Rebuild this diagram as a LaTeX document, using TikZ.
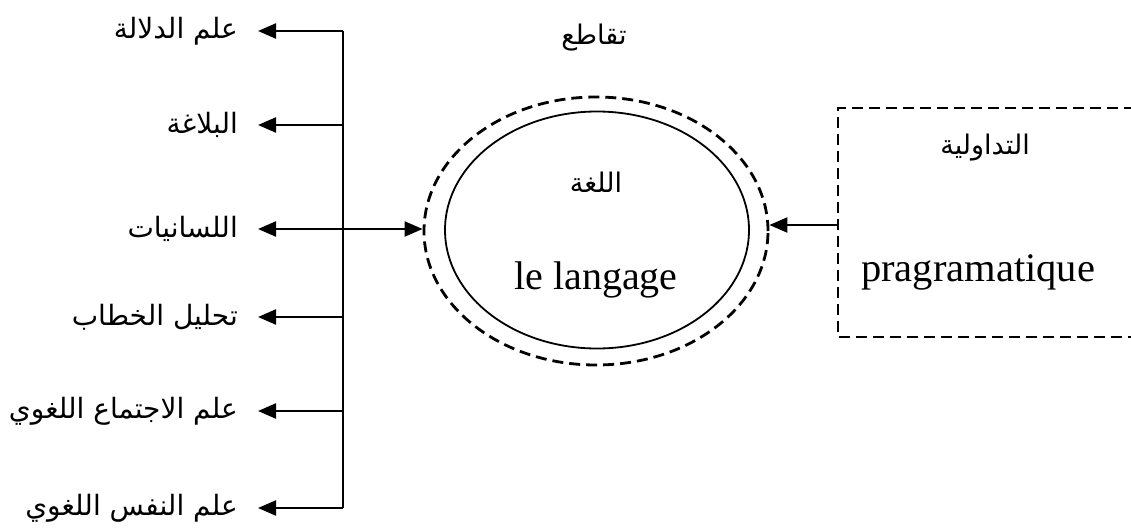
\documentclass[tikz,border=0pt]{standalone}
\usepackage{fontspec}
\setmainfont{Liberation Serif}
\newfontfamily\arabicfont[Script=Arabic]{DejaVu Sans}
\TeXXeTstate=1
\usetikzlibrary{shapes.geometric,arrows.meta}
\begin{document}
\begin{tikzpicture}[x=1pt,y=-1pt,
  lbl/.style={anchor=east,inner xsep=20pt,inner ysep=0pt,font=\arabicfont\fontsize{28}{32}\selectfont},
  artext/.style={font=\arabicfont\fontsize{27}{31}\selectfont},
  tip/.tip={Triangle[length=18pt,width=15pt]},
  arr/.style={line width=2.2pt,-tip},
  dbl/.style={line width=2.2pt,tip-tip},
  dsh/.style={line width=2.8pt,dash pattern=on 11pt off 6pt}]
\useasboundingbox (0,0) rectangle (1131,532);
% labels
\node[lbl] (l1) at (258,31) {\beginR علم الدلالة\endR};
\node[lbl] (l2) at (258,125) {\beginR البلاغة\endR};
\node[lbl] (l3) at (258,229) {\beginR اللسانيات\endR};
\node[lbl] (l4) at (258,317) {\beginR تحليل الخطاب\endR};
\node[lbl] (l5) at (258,411) {\beginR علم الاجتماع اللغوي\endR};
\node[lbl] (l6) at (258,508) {\beginR علم النفس اللغوي\endR};
% trunk
\coordinate (t1) at (343,31);
\coordinate (t2) at (343,125);
\coordinate (t4) at (343,317);
\coordinate (t5) at (343,411);
\coordinate (t6) at (343,508);
\draw[line width=2.2pt] (t1) -- (t6);
\draw[arr] (t1) -- (l1.east);
\draw[arr] (t2) -- (l2.east);
\draw[arr] (t4) -- (l4.east);
\draw[arr] (t5) -- (l5.east);
\draw[arr] (t6) -- (l6.east);
% ellipses
\node[draw,dsh,ellipse,minimum width=344pt,minimum height=268pt,inner sep=0pt] (outer) at (596,231) {};
\node[draw,line width=1.8pt,ellipse,minimum width=304pt,minimum height=237pt,inner sep=0pt] (inner) at (597,230) {};
\node[artext] (top) at (594,38) {\beginR تقاطع\endR};
\node[artext] (lug) at (596,182) {\beginR اللغة\endR};
\node[font=\fontsize{40}{46}\selectfont] (lang) at (596,280) {le langage};
\draw[dbl] (l3.east) -- (l3.east -| outer.west);
% box
\coordinate (bx) at (838,225);
\draw[dsh] (1135,108) -- (838,108) -- (838,337) -- (1135,337);
\node[artext] (tad) at (985,148) {\beginR التداولية\endR};
\node[font=\fontsize{40.5}{46}\selectfont] (prag) at (978,272) {pragramatique};
\draw[arr] (bx) -- (bx -| outer.east);
\end{tikzpicture}
\end{document}
